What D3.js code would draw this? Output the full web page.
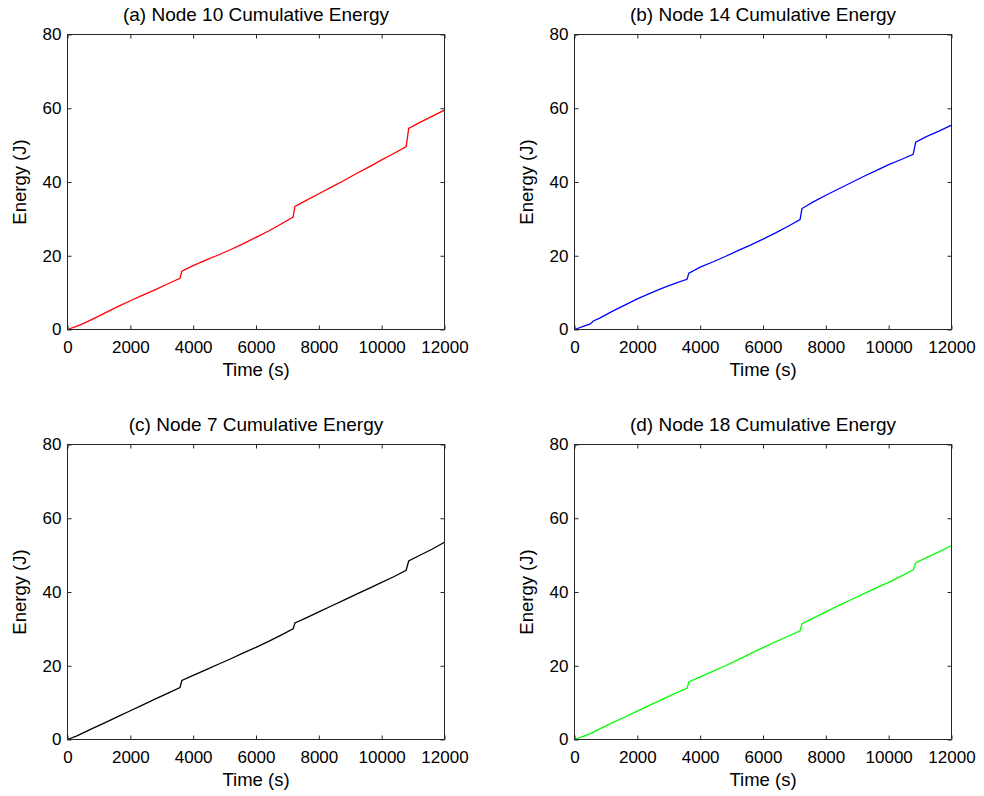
<!DOCTYPE html>
<html>
<head>
<meta charset="utf-8">
<script src="https://cdn.jsdelivr.net/npm/d3@7"></script>
<style>
  html, body { margin: 0; padding: 0; background: #fff; }
  svg { display: block; }
  text { font-family: "Liberation Sans", Arial, Helvetica, sans-serif; fill: #000; }
</style>
</head>
<body>
<svg id="chart" width="984" height="796"></svg>
<script>
// Sample times (s) shared by all four nodes
const times = [0, 300, 500, 600, 800, 1200, 1600, 2000, 2400, 2800, 3200, 3580, 3640,
  4000, 4400, 4800, 5200, 5600, 6000, 6400, 6800, 7180, 7240, 7600, 8000, 8400,
  8800, 9200, 9600, 10000, 10400, 10780, 10860, 11200, 11600, 12000];

// Cumulative energy (J) per node
const energyNode10 = [0, 0.9, 1.6, 2.0, 2.8, 4.5, 6.2, 7.8, 9.3, 10.8, 12.4, 13.9, 15.8,
  17.3, 18.8, 20.2, 21.7, 23.3, 25.0, 26.7, 28.6, 30.5, 33.4, 35.0, 36.8, 38.6,
  40.4, 42.3, 44.1, 46.0, 47.8, 49.6, 54.5, 56.1, 57.8, 59.5];
const energyNode14 = [0, 0.9, 1.5, 2.3, 3.1, 4.9, 6.6, 8.3, 9.8, 11.2, 12.5, 13.6, 15.3,
  16.9, 18.3, 19.8, 21.4, 22.9, 24.5, 26.2, 28.0, 29.8, 32.8, 34.6, 36.4, 38.1,
  39.8, 41.5, 43.1, 44.7, 46.1, 47.5, 50.8, 52.3, 53.8, 55.4];
const energyNode7 = [0, 1.0, 1.8, 2.2, 3.0, 4.6, 6.2, 7.8, 9.4, 11.0, 12.6, 14.1, 16.0,
  17.4, 18.9, 20.4, 21.9, 23.5, 25.0, 26.6, 28.3, 30.0, 31.6, 33.0, 34.6, 36.2,
  37.8, 39.4, 41.0, 42.6, 44.2, 45.9, 48.4, 49.9, 51.6, 53.5];
const energyNode18 = [0, 0.9, 1.6, 2.0, 2.9, 4.5, 6.1, 7.7, 9.3, 10.9, 12.5, 13.9, 15.6,
  17.0, 18.5, 20.0, 21.6, 23.3, 24.9, 26.5, 28.0, 29.5, 31.4, 32.9, 34.6, 36.3,
  37.9, 39.5, 41.1, 42.6, 44.3, 46.0, 47.9, 49.3, 50.9, 52.6];

const panelTitles = ["(a) Node 10 Cumulative Energy", "(b) Node 14 Cumulative Energy",
  "(c) Node 7 Cumulative Energy", "(d) Node 18 Cumulative Energy"];
const panelSeries = [energyNode10, energyNode14, energyNode7, energyNode18];
const panelColors = ["#ff0000", "#0000ff", "#000000", "#00ff00"];

const xTicks = [0, 2000, 4000, 6000, 8000, 10000, 12000];
const yTicks = [0, 20, 40, 60, 80];
const xLabel = "Time (s)";
const yLabel = "Energy (J)";

// Layout
const plotW = 377, plotH = 295;
const origins = [[67.5, 34.5], [574.5, 34.5], [67.5, 444.5], [574.5, 444.5]];
const tickFont = 17, labelFont = 18.5, titleFont = 19;

const svg = d3.select("#chart");

const x = d3.scaleLinear().domain([0, 12000]).range([0, plotW]);
const y = d3.scaleLinear().domain([0, 80]).range([plotH, 0]);

panelSeries.forEach((series, i) => {
  const [ox, oy] = origins[i];
  const g = svg.append("g").attr("transform", `translate(${ox},${oy})`);

  // data line
  const pts = times.map((t, k) => [t, series[k]]);
  g.append("path")
    .datum(pts)
    .attr("fill", "none")
    .attr("stroke", panelColors[i])
    .attr("stroke-width", 1.3)
    .attr("d", d3.line().x(d => x(d[0])).y(d => y(d[1])));

  // axes with inward ticks on all four sides
  const bottom = g.append("g").attr("transform", `translate(0,${plotH})`)
    .call(d3.axisBottom(x).tickValues(xTicks).tickFormat(d3.format("d"))
      .tickSizeInner(-4).tickSizeOuter(0).tickPadding(11.5));
  const left = g.append("g")
    .call(d3.axisLeft(y).tickValues(yTicks).tickFormat(d3.format("d"))
      .tickSizeInner(-4).tickSizeOuter(0).tickPadding(6));
  const top = g.append("g")
    .call(d3.axisTop(x).tickValues(xTicks).tickFormat("")
      .tickSizeInner(-4).tickSizeOuter(0));
  const right = g.append("g").attr("transform", `translate(${plotW},0)`)
    .call(d3.axisRight(y).tickValues(yTicks).tickFormat("")
      .tickSizeInner(-4).tickSizeOuter(0));

  [bottom, left, top, right].forEach(a => {
    a.select(".domain").remove();
    a.selectAll("line").attr("stroke", "#262626");
    a.selectAll("text").attr("font-size", tickFont)
      .attr("font-family", "'Liberation Sans', Arial, sans-serif").attr("fill", "#000");
  });

  // axes box
  g.append("rect")
    .attr("x", 0).attr("y", 0).attr("width", plotW).attr("height", plotH)
    .attr("fill", "none").attr("stroke", "#262626").attr("stroke-width", 1);

  // title
  g.append("text")
    .attr("x", plotW / 2).attr("y", -13.5)
    .attr("text-anchor", "middle").attr("font-size", titleFont)
    .text(panelTitles[i]);

  // axis labels
  g.append("text")
    .attr("x", plotW / 2).attr("y", plotH + 46)
    .attr("text-anchor", "middle").attr("font-size", labelFont)
    .text(xLabel);
  g.append("text")
    .attr("transform", `translate(-42,${plotH / 2}) rotate(-90)`)
    .attr("text-anchor", "middle").attr("font-size", labelFont)
    .text(yLabel);
});
</script>
</body>
</html>
